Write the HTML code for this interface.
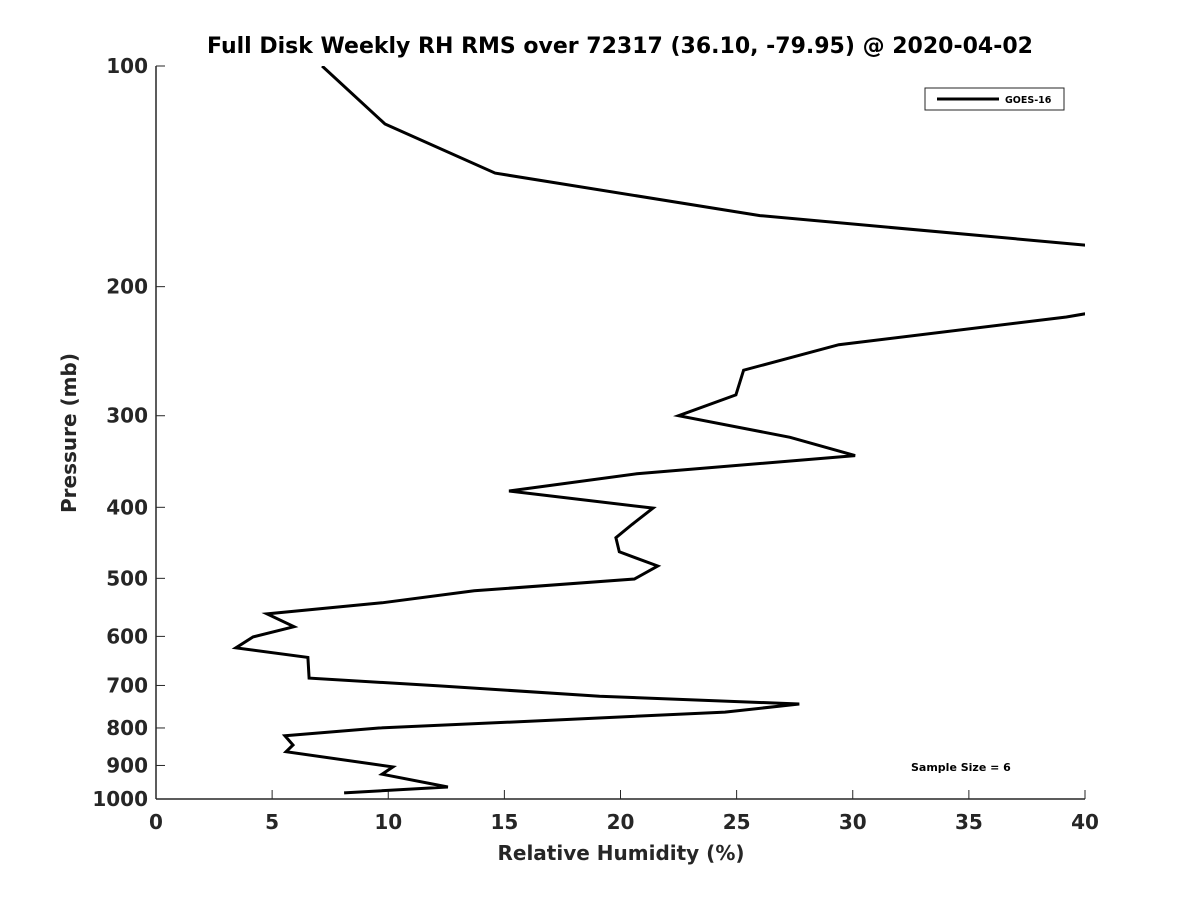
<!DOCTYPE html>
<html><head><meta charset="utf-8"><style>
body{margin:0;background:#fff;}
svg text{font-family:"DejaVu Sans","Liberation Sans",sans-serif;font-weight:bold;fill:#262626;}
</style></head><body>
<svg id="chart" width="1200" height="900" viewBox="0 0 1200 900" xmlns="http://www.w3.org/2000/svg">
<defs><clipPath id="plotclip"><rect x="156" y="66" width="929" height="733"/></clipPath></defs>
<rect width="1200" height="900" fill="#fff"/>
<text x="620" y="53" text-anchor="middle" font-size="22" style="fill:#000">Full Disk Weekly RH RMS over 72317 (36.10, -79.95) @ 2020-04-02</text>
<g id="axes"></g>
<g id="series" clip-path="url(#plotclip)"></g>
<g>
<rect x="925" y="88" width="139" height="22" fill="#fff" stroke="#262626" stroke-width="1"/>
<line x1="937" y1="99" x2="999" y2="99" stroke="#000" stroke-width="3"/>
<text x="1005" y="103" font-size="9.5" style="fill:#000">GOES-16</text>
</g>
<text x="911" y="771" font-size="11" style="fill:#000">Sample Size = 6</text>
<text x="621" y="860" text-anchor="middle" font-size="20">Relative Humidity (%)</text>
<text transform="translate(76,433) rotate(-90)" text-anchor="middle" font-size="20">Pressure (mb)</text>
</svg>
<script>
const xTicks=[0,5,10,15,20,25,30,35,40];
const yTicks=[100,200,300,400,500,600,700,800,900,1000];
const rh=[7.15,9.86,14.6,26.0,40.0,48.0,39.2,29.4,25.3,24.97,22.5,27.3,30.1,20.7,15.2,21.4,20.5,19.8,19.95,21.6,20.6,13.7,9.73,4.78,5.94,4.18,3.44,6.54,6.59,12.2,19.1,27.7,24.5,16.2,9.6,5.55,5.9,5.6,10.2,9.73,12.57,8.1];
const pres=[100,120,140,160,175.5,197,220,240,260,281,300,321,340,360,380,401,422,440,460,481,501,520,540,559,582,601,622,641,684,701,724,742,761,783,800,820,844,862,904,925,963,981];
const NS="http://www.w3.org/2000/svg";
const X0=156,X1=1085,Y0=66,Y1=799;
function xs(v){return X0+(v-0)/40*(X1-X0);}
function ys(p){return Y0+Math.log10(p/100)*(Y1-Y0);}
const axes=document.getElementById('axes');
function mk(tag,attrs,parent){const e=document.createElementNS(NS,tag);for(const k in attrs)e.setAttribute(k,attrs[k]);parent.appendChild(e);return e;}
const xa=mk('line',{x1:X0,y1:Y1,x2:X1,y2:Y1,stroke:'#262626','stroke-width':1.5},axes);


const ya=mk('line',{x1:X0,y1:Y0,x2:X0,y2:Y1,stroke:'#262626','stroke-width':1.5},axes);


xTicks.forEach(v=>{
  const t=mk('line',{x1:xs(v),y1:Y1,x2:xs(v),y2:Y1-9,stroke:'#262626','stroke-width':1},axes);
  
  
  const l=mk('text',{x:xs(v),y:Y1+30,'text-anchor':'middle','font-size':20},axes);
  l.textContent=v;
  
  
});
yTicks.forEach(p=>{
  const t=mk('line',{x1:X0,y1:ys(p),x2:X0+9,y2:ys(p),stroke:'#262626','stroke-width':1},axes);
  
  
  const l=mk('text',{x:X0-8,y:ys(p)+7,'text-anchor':'end','font-size':20},axes);
  l.textContent=p;
  
  
});
const d=rh.map((v,i)=>(i?'L':'M')+xs(v).toFixed(1)+' '+ys(pres[i]).toFixed(1)).join(' ');
const path=mk('path',{d:d,fill:'none',stroke:'#000','stroke-width':3,'stroke-linejoin':'miter'},document.getElementById('series'));


</script>
</body></html>
